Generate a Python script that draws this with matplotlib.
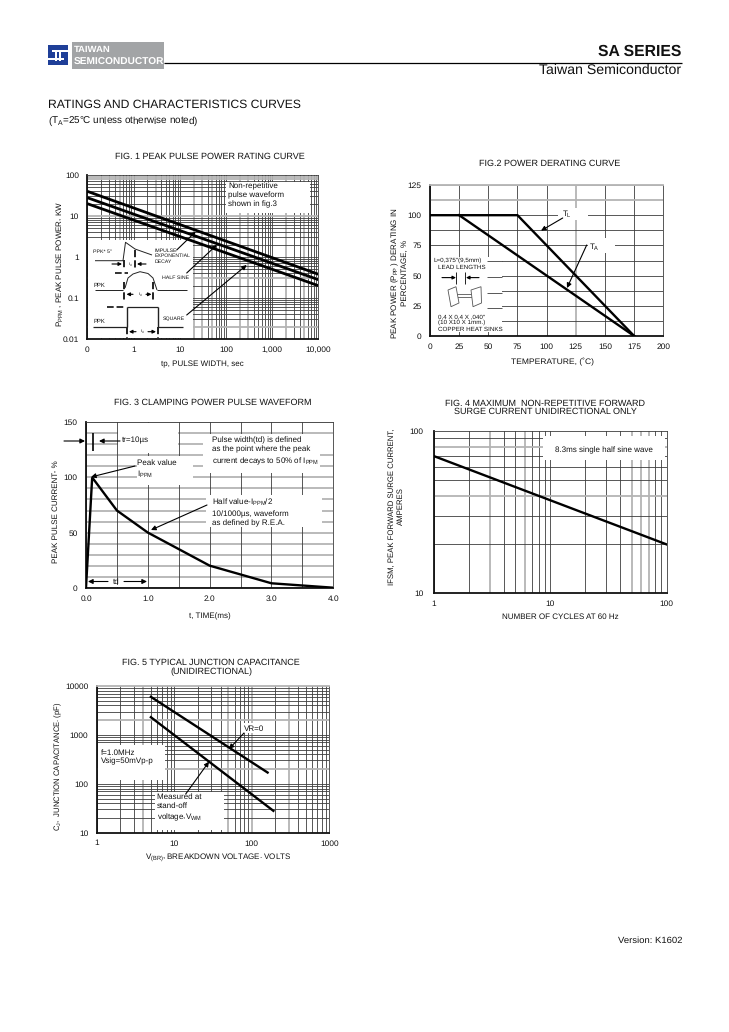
import matplotlib
matplotlib.use("Agg")
import matplotlib.pyplot as plt
from matplotlib.patches import Rectangle, Polygon

plt.rcParams['font.family'] = ['Liberation Sans', 'DejaVu Sans']
plt.rcParams['mathtext.default'] = 'regular'
plt.rcParams['text.hinting'] = 'none'
plt.rcParams['text.hinting_factor'] = 8

W, H = 729, 1032
fig = plt.figure(figsize=(W / 100, H / 100), dpi=100)

DARK, GREY = '#3c3c3c', '#b4b4b4'
TITLE_FS, LABEL_FS, TICK_FS = 6.5, 5.8, 6.0

# ---------- data ----------
f1_x = [0.1, 10000]
f1_top = [40, 0.38]
f1_mid = [28, 0.28]
f1_low = [20, 0.20]
f1_xticks = [0.1, 1, 10, 100, 1000, 10000]
f1_xlabels = ['0', '1', '10', '100', '1,000', '10,000']
f1_yticks = [0.01, 0.1, 1, 10, 100]
f1_ylabels = ['0.01', '0.1', '1', '10', '100']
f1_grey_x = [0.5, 3, 20, 30, 50, 200, 300, 2000, 5000]
f1_grey_y = [0.02, 0.3, 10, 80, 90, 100]

f2_tl_x = [0, 75, 175]
f2_tl_y = [100, 100, 0]
f2_ta_x = [25, 175]
f2_ta_y = [100, 0]
f2_xticks = [0, 25, 50, 75, 100, 125, 150, 175, 200]
f2_yticks = [0, 25, 50, 75, 100, 125]

f3_x = [0, 0.1, 0.5, 1, 2, 3, 4]
f3_y = [0, 100, 70, 50, 20, 4, 0]
f3_xticks = [0, 1, 2, 3, 4]
f3_xlabels = ['0.0', '1.0', '2.0', '3.0', '4.0']
f3_yticks = [0, 50, 100, 150]

f4_x = [1, 100]
f4_y = [70, 20]
f4_xticks = [1, 10, 100]
f4_yticks = [10, 100]
f4_grey_x = [3, 6, 50, 60, 70]
f4_grey_y = [40, 80]

f5_vr0_x = [5, 160]
f5_vr0_y = [6000, 170]
f5_vwm_x = [5, 190]
f5_vwm_y = [2300, 28]
f5_ticks = [1, 10, 100, 1000]
f5_yticks = [10, 100, 1000, 10000]
f5_grey_x = [4, 50, 100, 300]
f5_grey_y = [2000, 200]

# ---------- page overlay in pixel coordinates ----------
page = fig.add_axes([0, 0, 1, 1], zorder=10)
page.set_xlim(0, W)
page.set_ylim(H, 0)
page.axis('off')
page.patch.set_alpha(0)


def make_axes(l, r, t, b, xpad=5, ypad=6):
    ax = fig.add_axes([l / W, 1 - b / H, (r - l) / W, (b - t) / H], zorder=1)
    ax.tick_params(axis='x', which='both', length=0, labelsize=TICK_FS, pad=xpad, colors='#111111')
    ax.tick_params(axis='y', which='both', length=0, labelsize=TICK_FS, pad=ypad, colors='#111111')
    for s in ax.spines.values():
        s.set_color(DARK)
        s.set_linewidth(0.6)
    for s in ('left', 'bottom'):
        ax.spines[s].set_linewidth(1.3)
        ax.spines[s].set_color('#111111')
    return ax


def logminors(lo, hi):
    vals, d = [], lo
    while d < hi * 0.999:
        vals += [d * k for k in range(1, 10)]
        d *= 10
    return vals


def grid(ax, xs, ys, gx=(), gy=()):
    for v in xs:
        if any(abs(v - g) < 1e-9 for g in gx):
            ax.axvline(v, color=GREY, lw=1.3, zorder=1)
        else:
            ax.axvline(v, color=DARK, lw=0.6, zorder=1)
    for v in ys:
        if any(abs(v - g) < 1e-9 for g in gy):
            ax.axhline(v, color=GREY, lw=1.3, zorder=1)
        else:
            ax.axhline(v, color=DARK, lw=0.6, zorder=1)


def wbox(ax, x0, y0, x1, y1):
    ax.add_patch(Rectangle((x0, y0), x1 - x0, y1 - y0, transform=page.transData,
                           fc='white', ec='none', zorder=2, clip_on=False))


def txt(x, y, s, size=LABEL_FS, ha='left', va='center', **kw):
    page.text(x, y, s, fontsize=size, ha=ha, va=va, color='#111111', **kw)


def arrow(x0, y0, x1, y1, lw=0.8, ms=7):
    page.annotate('', xy=(x1, y1), xytext=(x0, y0),
                  arrowprops=dict(arrowstyle='-|>', lw=lw, color='black',
                                  mutation_scale=ms, shrinkA=0, shrinkB=0))


def seg(xs, ys, lw=0.7, color='#222222', ls='-'):
    page.plot(xs, ys, color=color, lw=lw, ls=ls, solid_capstyle='butt')


def log_ticks(ax, xt, xl, yt, yl):
    ax.set_xticks(xt, xl)
    ax.set_yticks(yt, yl)
    ax.minorticks_off()


# ---------- header ----------
page.add_patch(Rectangle((72, 42), 92.5, 27, fc='#a2a4a6', ec='none'))
BLUE = '#1f3f98'
page.add_patch(Rectangle((48, 45), 20, 20, fc=BLUE, ec='none'))
page.add_patch(Rectangle((52, 49.5), 16, 2.2, fc='white', ec='none'))
page.add_patch(Rectangle((48, 58.3), 16, 2.2, fc='white', ec='none'))
page.add_patch(Rectangle((55.5, 49.5), 1.6, 11, fc='white', ec='none'))
page.add_patch(Rectangle((59, 49.5), 1.6, 11, fc='white', ec='none'))
page.text(74, 50, 'TAIWAN', fontsize=6.8, ha='left', va='center', color='white', fontweight='bold')
page.text(74, 62, 'SEMICONDUCTOR', fontsize=7.3, ha='left', va='center', color='white', fontweight='bold')
seg([164.5, 682], [62.5, 62.5], lw=0.9, color='black')
txt(681, 51.5, 'SA SERIES', size=11.3, ha='right', fontweight='bold')
txt(681, 70.5, 'Taiwan Semiconductor', size=10.2, ha='right')
txt(48, 104.5, 'RATINGS AND CHARACTERISTICS CURVES', size=8.7)
txt(48, 121.5, '(T$_A$=25°C unless otherwise noted)', size=7.1)
txt(682, 940.5, 'Version: K1602', size=6.8, ha='right')

# ---------- Fig 1 ----------
ax1 = make_axes(87.3, 318.3, 175, 339)
ax1.set_xscale('log')
ax1.set_yscale('log')
ax1.set_xlim(0.1, 10000)
ax1.set_ylim(0.01, 100)
grid(ax1, logminors(0.1, 10000), logminors(0.01, 100), f1_grey_x, f1_grey_y)
wbox(ax1, 88, 240, 193, 338)
wbox(ax1, 226, 182, 310, 213)
for ys in (f1_top, f1_mid, f1_low):
    ax1.plot(f1_x, ys, color='black', lw=2, zorder=3, solid_capstyle='butt')
log_ticks(ax1, f1_xticks, f1_xlabels, f1_yticks, f1_ylabels)
txt(210, 157, 'FIG. 1 PEAK PULSE POWER RATING CURVE', size=TITLE_FS, ha='center')
txt(202.5, 364, 'tp, PULSE WIDTH, sec', ha='center')
txt(60, 264, 'P$_{PPM}$ , PEAK PULSE POWER, KW', ha='center', rotation=90)
txt(228, 195, 'Non-repetitive\npulse waveform\nshown in fig.3', linespacing=1.25)
txt(93, 251.5, 'PPK* 5"', size=3.8)
txt(155, 256, 'IMPULSE\nEXPONENTIAL\nDECAY', size=3.7, linespacing=1.25)
txt(94, 285, 'PPK', size=4.2)
txt(162, 278, 'HALF SINE', size=3.8)
txt(94, 321, 'PPK', size=4.2)
txt(163, 319, 'SQUARE', size=3.8)
# inset pulse sketches
seg([95, 123, 125.5, 135, 152], [260.7, 260.7, 242.3, 249, 255])
seg([124.3, 124.3], [260, 268], lw=1.4, ls='--')
seg([135, 135], [250, 268], lw=1.4, ls='--')
arrow(112, 264, 122, 264, ms=5)
arrow(146, 264, 137, 264, ms=5)
txt(128, 264, 't$_d$', size=3)
seg([115, 128], [272.7, 272.7], lw=1.3, ls='--')
seg([95, 123], [290, 290])
seg([125, 128, 133, 140, 148, 153, 157], [288, 278, 274, 271.7, 273.5, 278, 290])
seg([157, 187], [290, 290])
seg([124.3, 124.3], [281.7, 300], lw=1.4, ls='--')
seg([153.5, 153.5], [281.7, 300], lw=1.4, ls='--')
arrow(133, 294.3, 126.5, 294.3, ms=5)
arrow(146, 294.3, 151.5, 294.3, ms=5)
txt(140, 294.5, 't$_d$', size=3, ha='center')
seg([106.7, 125], [306.7, 306.7], lw=1.3, ls='--')
seg([126.7, 158.3], [306.7, 306.7], lw=0.9)
seg([126.7, 126.7], [306.7, 326.7], lw=1)
seg([158.3, 158.3], [306.7, 326.7], lw=1)
seg([93, 126.7], [326.7, 326.7], lw=0.9)
seg([158.3, 183], [326.7, 326.7], lw=0.9)
seg([126.7, 126.7], [326.7, 338], lw=1.4, ls='--')
seg([158.3, 158.3], [326.7, 338], lw=1.4, ls='--')
arrow(136, 331.7, 129, 331.7, ms=5)
arrow(148, 331.7, 156, 331.7, ms=5)
txt(142, 331.7, 't$_d$', size=3, ha='center')
arrow(176.7, 250, 195.7, 231.7, ms=6)
arrow(186.7, 273, 216.7, 245, ms=6)
arrow(186.7, 315, 246.7, 265, ms=7)

# ---------- Fig 2 ----------
ax2 = make_axes(430, 663.3, 185, 336)
ax2.set_xlim(0, 200)
ax2.set_ylim(0, 125)
grid(ax2, list(range(0, 201, 25)), [12.5 * k for k in range(11)], (125,), (112.5, 125))
ax2.spines['top'].set_color(GREY)
ax2.spines['top'].set_linewidth(1.3)
wbox(ax2, 431, 257, 502, 332)
wbox(ax2, 558, 208, 588, 220)
wbox(ax2, 588, 238, 615, 253)
ax2.plot(f2_tl_x, f2_tl_y, color='black', lw=1.7, zorder=3, solid_joinstyle='miter')
ax2.plot(f2_ta_x, f2_ta_y, color='black', lw=1.7, zorder=3)
ax2.set_xticks(f2_xticks, [str(v) for v in f2_xticks])
ax2.set_yticks(f2_yticks, [str(v) for v in f2_yticks])
txt(550, 163.5, 'FIG.2 POWER DERATING CURVE', size=TITLE_FS, ha='center')
txt(552, 361.5, 'TEMPERATURE, (˚C)', size=6.1, ha='center')
txt(399, 273, 'PEAK POWER (P$_{PP}$ ) DERATING IN\nPERCENTAGE, %', ha='center', rotation=90,
    multialignment='center', linespacing=1.15)
txt(562, 214, 'T$_L$')
txt(589, 246.5, 'T$_A$')
arrow(562.7, 218, 541, 230.7)
arrow(586.7, 245, 567, 288)
txt(458, 260, 'L=0,375"(9,5mm)', size=4.5, ha='center')
txt(461.5, 267, 'LEAD LENGTHS', size=4.5, ha='center')
for gy in (261, 277, 292.7, 308.3):
    seg([487, 502], [gy, gy], lw=0.6, color=DARK)
arrow(442, 277.6, 456, 277.6, ms=5)
arrow(479, 277.6, 466, 277.6, ms=5)
seg([456, 456], [272, 284], lw=0.7)
seg([465, 465], [272, 284], lw=0.7)
page.add_patch(Rectangle((453, 294), 19, 3, fc='white', ec='#555555', lw=0.6))
page.add_patch(Polygon([[448, 290], [456, 286.7], [459, 303], [451, 306.7]], fc='white', ec='#555555', lw=0.6))
page.add_patch(Polygon([[471, 290], [481, 286.7], [481.5, 303], [473, 306.7]], fc='white', ec='#555555', lw=0.6))
txt(438, 322.7, '0,4 X 0,4 X ,040"\n(10 X10 X 1mm.)\nCOPPER HEAT SINKS', size=4.5, linespacing=1.2)

# ---------- Fig 3 ----------
ax3 = make_axes(86, 333.3, 422.3, 587.7)
ax3.set_xlim(0, 4)
ax3.set_ylim(0, 150)
grid(ax3, [], [10 * k for k in range(16)], (), [10 * k for k in range(16)])
grid(ax3, [0.5 * k for k in range(9)], [])
wbox(ax3, 118, 423, 178, 453)
wbox(ax3, 137, 456, 193, 485)
wbox(ax3, 203, 434, 333, 452)
wbox(ax3, 203, 452, 320, 473)
wbox(ax3, 206, 495, 322, 527)
wbox(ax3, 87, 585, 148, 587)
ax3.plot(f3_x, f3_y, color='black', lw=1.7, zorder=3, solid_joinstyle='miter')
ax3.set_xticks(f3_xticks, f3_xlabels)
ax3.set_yticks(f3_yticks, [str(v) for v in f3_yticks])
txt(212.5, 403, 'FIG. 3 CLAMPING POWER PULSE WAVEFORM', size=TITLE_FS, ha='center')
txt(210, 616, 't, TIME(ms)', ha='center')
txt(56, 511.5, 'PEAK PULSE CURRENT- %', ha='center', rotation=90)
txt(122, 440.5, 'tr=10µs')
arrow(64, 441, 85, 441)
arrow(120, 441, 99, 441)
seg([93.5, 93.5], [433, 451], lw=1.2, color='black')
txt(137, 469, 'Peak value\nI$_{PPM}$', linespacing=1.3)
arrow(135, 466, 91, 477)
txt(212, 452, 'Pulse width(td) is defined\nas the point where the peak\ncurrent decays to 50% of I$_{PPM}$', linespacing=1.3)
txt(212, 512, 'Half value-I$_{PPM}$/2\n10/1000µs, waveform\nas defined by R.E.A.', linespacing=1.3)
arrow(207, 505, 151, 530)
txt(116, 582, 'td', ha='center')
arrow(108, 581.5, 88, 581.5)
arrow(124, 581.5, 147, 581.5)

# ---------- Fig 4 ----------
ax4 = make_axes(434, 666.7, 431, 593.3, ypad=7.5)
ax4.set_xscale('log')
ax4.set_yscale('log')
ax4.set_xlim(1, 100)
ax4.set_ylim(10, 100)
grid(ax4, logminors(1, 100), logminors(10, 100), f4_grey_x, f4_grey_y)
wbox(ax4, 543, 436, 665, 460)
ax4.plot(f4_x, f4_y, color='black', lw=1.7, zorder=3)
log_ticks(ax4, f4_xticks, [str(v) for v in f4_xticks], f4_yticks, [str(v) for v in f4_yticks])
txt(545.5, 407.5, 'FIG. 4 MAXIMUM  NON-REPETITIVE FORWARD\nSURGE CURRENT UNIDIRECTIONAL ONLY', size=TITLE_FS,
    ha='center', multialignment='center', linespacing=1.05)
txt(560, 617, 'NUMBER OF CYCLES AT 60 Hz', ha='center')
txt(396, 506.5, 'IFSM, PEAK FORWARD SURGE CURRENT,\nAMPERES', size=5.6, ha='center', rotation=90,
    multialignment='center', linespacing=1.3)
txt(603.5, 450, '8.3ms single half sine wave', ha='center')

# ---------- Fig 5 ----------
ax5 = make_axes(96.7, 329.3, 686, 832.7)
ax5.set_xscale('log')
ax5.set_yscale('log')
ax5.set_xlim(1, 1000)
ax5.set_ylim(10, 10000)
grid(ax5, logminors(1, 1000), logminors(10, 10000), f5_grey_x, f5_grey_y)
ax5.spines['top'].set_color(GREY)
ax5.spines['top'].set_linewidth(1.3)
wbox(ax5, 98, 745, 165, 780)
wbox(ax5, 155, 792, 224, 830)
wbox(ax5, 243, 723, 265, 733)
ax5.plot(f5_vr0_x, f5_vr0_y, color='black', lw=1.7, zorder=3)
ax5.plot(f5_vwm_x, f5_vwm_y, color='black', lw=1.7, zorder=3)
log_ticks(ax5, f5_ticks, [str(v) for v in f5_ticks], f5_yticks, [str(v) for v in f5_yticks])
txt(211, 667, 'FIG. 5 TYPICAL JUNCTION CAPACITANCE\n(UNIDIRECTIONAL)', size=TITLE_FS, ha='center',
    multialignment='center', linespacing=1.05)
txt(218, 858, 'V$_{(BR)}$, BREAKDOWN VOLTAGE. VOLTS', ha='center')
txt(58, 766, 'C$_J$,  JUNCTION CAPACITANCE. (pF)', size=5.5, ha='center', rotation=90)
txt(101, 757, 'f=1.0MHz\nVsig=50mVp-p', linespacing=1.3)
txt(157, 808, 'Measured at\nstand-off\nvoltage,V$_{WM}$', linespacing=1.3)
txt(244, 728.5, 'VR=0')
arrow(244, 733, 229, 749)
arrow(185.7, 794, 209, 761.7)

fig.savefig('out.png', dpi=100, facecolor='white')
